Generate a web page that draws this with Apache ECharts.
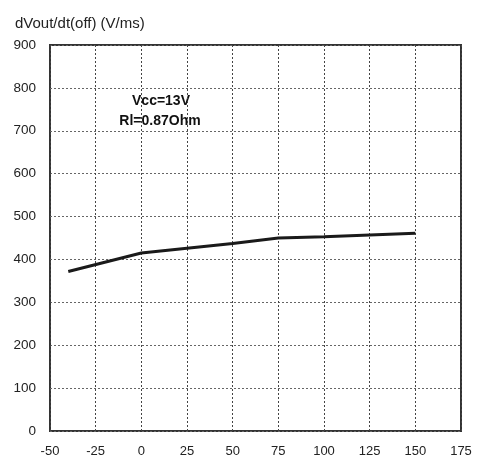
<!DOCTYPE html>
<html><head><meta charset="utf-8">
<script src="https://cdn.jsdelivr.net/npm/echarts@6/dist/echarts.min.js"></script>
<style>html,body{margin:0;padding:0;background:#fff}#c{width:482px;height:464px}</style>
</head><body><div id="c"></div>
<script>
var xValues = [-40, 0, 25, 50, 75, 100, 125, 150];
var yValues = [372, 415, 426, 437, 450, 453, 457, 461];
var yTitle = 'dVout/dt(off) (V/ms)';
var noteLines = ['Vcc=13V', 'Rl=0.87Ohm'];

var chart = echarts.init(document.getElementById('c'), null, {renderer: 'canvas'});
var font = 'Liberation Sans, Arial, sans-serif';
chart.setOption({
  animation: false,
  backgroundColor: '#fff',
  grid: {left: 50, right: 21, top: 45, bottom: 33, show: true, borderColor: '#333', borderWidth: 2, backgroundColor: 'transparent'},
  title: {text: yTitle, left: 10, top: 11, textStyle: {fontFamily: font, fontSize: 15, fontWeight: 'normal', color: '#222'}},
  xAxis: {
    type: 'value', min: -50, max: 175, interval: 25,
    axisLine: {show: false}, axisTick: {show: false},
    axisLabel: {fontFamily: font, fontSize: 13, color: '#222', margin: 14},
    splitLine: {show: true, lineStyle: {type: [2, 2], color: '#444', width: 1}}
  },
  yAxis: {
    type: 'value', min: 0, max: 900, interval: 100,
    axisLine: {show: false}, axisTick: {show: false},
    axisLabel: {fontFamily: font, fontSize: 13.5, color: '#222', margin: 14},
    splitLine: {show: true, lineStyle: {type: [2, 2], color: '#666', width: 1}}
  },
  graphic: [
    {type: 'text', style: {text: noteLines[0], x: 161, y: 101, align: 'center', verticalAlign: 'middle', font: 'bold 14px ' + font, fill: '#111'}},
    {type: 'text', style: {text: noteLines[1], x: 160, y: 121, align: 'center', verticalAlign: 'middle', font: 'bold 14px ' + font, fill: '#111'}}
  ],
  series: [{
    type: 'line', data: xValues.map(function (x, i) { return [x, yValues[i]]; }),
    showSymbol: false, symbol: 'none',
    lineStyle: {color: '#1a1a1a', width: 3}
  }]
});
</script></body></html>
